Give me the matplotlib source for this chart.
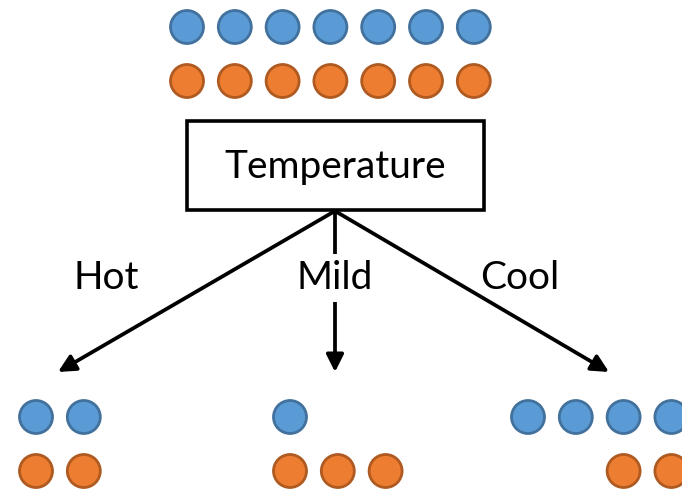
import matplotlib
matplotlib.use('Agg')
import matplotlib.pyplot as plt
from matplotlib.patches import Circle, Rectangle

# class counts per node (blue = yes, orange = no)
root_label = 'Temperature'
root_blue, root_orange = 7, 7
branches = ['Hot', 'Mild', 'Cool']
branch_blue = [2, 1, 4]
branch_orange = [2, 3, 2]

blue_fc, blue_ec = '#5B9BD5', '#41719C'
orange_fc, orange_ec = '#ED7D31', '#AE5A21'

step = 47.8   # distance between circle centres
rad = 16.5

fig = plt.figure(figsize=(6.82, 4.92), dpi=100)
ax = fig.add_axes([0, 0, 1, 1])
ax.set_xlim(0, 682)
ax.set_ylim(492, 0)
ax.axis('off')


def row(x0, y, n, fc, ec):
    for i in range(n):
        ax.add_patch(Circle((x0 + i * step, y), rad, fc=fc, ec=ec, lw=2, zorder=3))


# root node
row(187, 27, root_blue, blue_fc, blue_ec)
row(187, 81, root_orange, orange_fc, orange_ec)
ax.add_patch(Rectangle((187, 121), 297, 89, fill=False, ec='black', lw=2.6, zorder=2))
ax.text(335.5, 167, root_label, ha='center', va='center', fontsize=28, family='Lato')

# branches
origin = (335, 211)
tips_x = [58, 335, 609]
label_x = [106, 335, 520]
start_x = [36, 290, 528]
orange_shift = [0, 0, 2]
for i, name in enumerate(branches):
    ax.annotate('', xy=(tips_x[i], 372), xytext=origin,
                arrowprops=dict(arrowstyle='-|>', lw=2.7, color='black',
                                mutation_scale=26, shrinkA=0, shrinkB=0), zorder=1)
    box = dict(boxstyle='square,pad=0.15', fc='white', ec='none') if name == 'Mild' else None
    ax.text(label_x[i], 278, name, ha='center', va='center', fontsize=28, family='Lato',
            zorder=4, bbox=box)
    row(start_x[i], 417, branch_blue[i], blue_fc, blue_ec)
    row(start_x[i] + orange_shift[i] * step, 471, branch_orange[i], orange_fc, orange_ec)

fig.savefig('out.png', dpi=100)
